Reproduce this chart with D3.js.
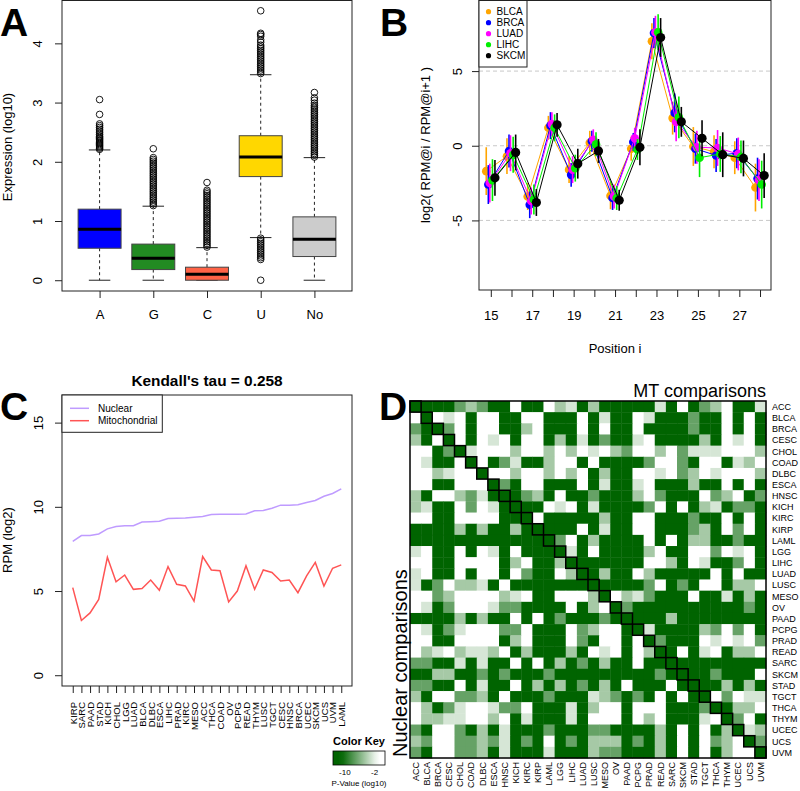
<!DOCTYPE html>
<html><head><meta charset="utf-8">
<script src="https://cdn.jsdelivr.net/npm/d3@7"></script>
<style>body{margin:0;background:#fff}svg{display:block}</style>
</head><body>
<svg id="fig" width="800" height="791"></svg>
<script>
// ---------------- DATA ----------------
// Panel A: boxplots
const boxCategories = ["A","G","C","U","No"];
const boxColors = ["#0000FF","#228B22","#FF6347","#FFD700","#CCCCCC"];
const boxQ1 = [0.54,0.18,0.00,1.75,0.40];
const boxMedian = [0.86,0.37,0.10,2.08,0.69];
const boxQ3 = [1.20,0.61,0.22,2.44,1.07];
const boxLowWhisker = [0,0,0,0.72,0];
const boxHighWhisker = [2.20,1.25,0.55,3.47,2.07];
const outliersA = [2.21,2.23,2.25,2.27,2.29,2.31,2.33,2.35,2.37,2.39,2.41,2.43,2.46,2.49,2.52,2.55,2.58,2.61,2.64,2.80,3.05];
const outliersG = [1.26,1.29,1.32,1.35,1.38,1.41,1.44,1.47,1.50,1.53,1.56,1.59,1.62,1.65,1.68,1.71,1.74,1.77,1.80,1.83,1.86,1.89,1.92,1.95,1.98,2.01,2.04,2.07,2.22];
const outliersC = [0.56,0.59,0.62,0.65,0.68,0.71,0.74,0.77,0.80,0.83,0.86,0.89,0.92,0.95,0.98,1.01,1.04,1.07,1.10,1.13,1.16,1.19,1.22,1.25,1.28,1.31,1.34,1.37,1.40,1.43,1.46,1.49,1.52,1.65];
const outliersU = [0.00,0.35,0.38,0.41,0.44,0.47,0.50,0.53,0.56,0.59,0.62,0.65,0.68,0.71,3.49,3.52,3.55,3.58,3.61,3.64,3.67,3.70,3.73,3.76,3.79,3.82,3.85,3.88,3.91,3.94,3.97,4.02,4.06,4.12,4.15,4.17,4.55];
const outliersNo = [2.08,2.11,2.14,2.17,2.20,2.23,2.26,2.29,2.32,2.35,2.38,2.41,2.44,2.47,2.50,2.53,2.56,2.59,2.62,2.65,2.68,2.71,2.74,2.77,2.80,2.83,2.86,2.89,2.92,2.95,2.99,3.04,3.08,3.17];
const boxTicks = [0,1,2,3,4];

// Panel B: positional ratios
const positions = [15,16,17,18,19,20,21,22,23,24,25,26,27,28];
const seriesNames = ["BLCA","BRCA","LUAD","LIHC","SKCM"];
const seriesColors = ["#FFA500","#0000FF","#FF00FF","#00EE00","#000000"];
const seriesOffsets = [-0.22,-0.12,-0.05,0.08,0.2];
const valBLCA = [-1.7,-0.7,-3.4,1.2,-1.6,0.2,-3.35,-0.2,7.0,1.85,-0.05,-0.4,-0.8,-2.8];
const valBRCA = [-2.6,-0.35,-3.95,1.35,-1.95,0.3,-3.5,0.25,7.55,2.2,-0.2,-0.65,-0.5,-2.2];
const valLUAD = [-2.5,-0.5,-3.7,1.45,-1.6,0.4,-3.4,0.5,7.6,1.6,-0.1,-0.15,-0.55,-2.3];
const valLIHC = [-2.3,-0.6,-3.6,1.2,-1.5,0.1,-3.5,-0.25,7.6,1.9,-0.8,-0.55,-0.75,-2.6];
const valSKCM = [-2.15,-0.45,-3.8,1.4,-1.2,-0.35,-3.65,-0.1,7.25,1.6,0.5,-0.6,-0.85,-2.0];
const errBLCA = [1.6,1.2,0.9,0.8,0.9,0.8,0.9,0.8,1.2,1.1,1.3,1.1,1.1,1.6];
const errBRCA = [1.3,1.1,0.9,0.9,0.8,0.7,0.8,0.6,1.0,1.3,1.0,1.1,1.0,1.4];
const errLUAD = [1.3,1.2,0.9,0.8,0.9,0.7,0.8,0.7,1.1,1.3,1.1,1.2,1.1,1.4];
const errLIHC = [1.4,1.2,1.0,0.9,0.9,0.8,0.8,0.7,1.2,1.4,1.3,1.2,1.1,1.6];
const errSKCM = [1.2,1.2,0.9,0.8,1.0,0.8,0.7,1.2,1.3,1.0,1.2,1.5,1.2,1.5];
const ratioTicks = [-5,0,5];

// Panel C: RPM lines
const cancersC = ["KIRP","SARC","PAAD","STAD","KICH","CHOL","LGG","LUAD","BLCA","DLBC","ESCA","LIHC","PRAD","KIRC","MESO","ACC","THCA","COAD","OV","PCPG","READ","THYM","LUSC","TGCT","CESC","HNSC","BRCA","UCEC","SKCM","UCS","UVM","LAML"];
const nuclearRPM = [7.95,8.29,8.3,8.39,8.69,8.83,8.88,8.88,9.1,9.12,9.14,9.3,9.32,9.34,9.38,9.42,9.54,9.56,9.56,9.56,9.58,9.76,9.78,9.92,10.1,10.1,10.12,10.26,10.38,10.63,10.79,11.07];
const mitoRPM = [5.2,3.25,3.7,4.5,7.0,5.55,5.95,5.1,5.15,5.65,5.05,6.45,5.4,5.3,4.4,7.05,6.25,6.2,4.35,5.0,6.5,5.1,6.25,6.1,5.6,5.65,4.9,5.9,6.7,5.3,6.35,6.55];
const rpmTicks = [0,5,10,15];

// Panel D: heatmap (level codes per cell, upper = MT, lower = nuclear)
const heatCancers = ["ACC","BLCA","BRCA","CESC","CHOL","COAD","DLBC","ESCA","HNSC","KICH","KIRC","KIRP","LAML","LGG","LIHC","LUAD","LUSC","MESO","OV","PAAD","PCPG","PRAD","READ","SARC","SKCM","STAD","TGCT","THCA","THYM","UCEC","UCS","UVM"];
const levelLog10P = [-1,-2.6,-4.5,-7,-11];
const heatRows = [
"44443234404402142444441404320441",
"04010400440044404144014443440404",
"34430400442044404044044443440404",
"24040401040042414344104444240104",
"00434100020020201023002031110002",
"01440404314420040444430034004120",
"00210040020020204244001032010002",
"00440004340044404144104442440404",
"24002314443240443444203444032043",
"21440301444401041444430404214334",
"00440000444044444244004443440404",
"44442424424444404144004443240304",
"44444444444443042444404042244344",
"10440401404444140444420440030104",
"00440000420442444444400240144304",
"10440400403440244244024444404044",
"14302214044444444444430434004220",
"00320000210440002402134440441424",
"01430001334444042043444444444434",
"44442424404043444344444244444444",
"01431000330444032004414444230304",
"00440000420444034004043444010103",
"02102112042444240104024404104220",
"33441414404042434244044444444444",
"44224434344434444444443444434440",
"33440414404242434240444044442424",
"24003324044434441234340404403011",
"02431001330444142004000444344220",
"02211002041444140004020444104304",
"34003424144434443344442404042412",
"23003323143404342224342404032043",
"34003324144414442334442404042004"
];
const keyTicks = [-10,-2];

// ---------------- DRAW ----------------
const FF = '"Liberation Sans", Arial, Helvetica, sans-serif';
const svg = d3.select("#fig").style("font-family", FF);
const INK = "#222";
const plain = d => String(d);

function styleAxis(g, size){
  g.attr("font-family", FF).attr("font-size", size);
  g.select(".domain").remove();
  g.selectAll(".tick line").attr("stroke", INK);
  g.selectAll(".tick text").attr("fill", "#000");
}
function rotYLabels(g, d){
  g.selectAll(".tick text").attr("transform","rotate(-90)").attr("x",0).attr("y",-d).attr("dy",0).attr("text-anchor","middle");
}
function rotText(x, y, txt, size, anchor, weight){
  svg.append("text").attr("transform",`translate(${x},${y}) rotate(-90)`)
    .attr("text-anchor",anchor||"middle").attr("font-size",size).attr("font-weight",weight||"normal").text(txt);
}
function letter(t,x,y){ svg.append("text").attr("x",x).attr("y",y).attr("font-size",39).attr("font-weight","bold").text(t); }

// ===== Panel A =====
const ax = d3.scaleLinear().domain([0.3,5.7]).range([62,352]);
const ay = d3.scaleLinear().domain([-0.182,4.732]).range([291,0]);
const outliers = [outliersA,outliersG,outliersC,outliersU,outliersNo];
const gA = svg.append("g");
boxCategories.forEach((c,i)=>{
  const xc = ax(i+1), hw = ax(i+1.4)-xc, sw = ax(i+1.2)-xc;
  gA.append("line").attr("x1",xc).attr("x2",xc).attr("y1",ay(boxQ3[i])).attr("y2",ay(boxHighWhisker[i])).attr("stroke",INK).attr("stroke-dasharray","3,3");
  gA.append("line").attr("x1",xc).attr("x2",xc).attr("y1",ay(boxQ1[i])).attr("y2",ay(boxLowWhisker[i])).attr("stroke",INK).attr("stroke-dasharray","3,3");
  [boxHighWhisker[i], boxLowWhisker[i]].forEach(v=>gA.append("line").attr("x1",xc-sw).attr("x2",xc+sw).attr("y1",ay(v)).attr("y2",ay(v)).attr("stroke",INK));
  gA.append("rect").attr("x",xc-hw).attr("width",2*hw).attr("y",ay(boxQ3[i])).attr("height",ay(boxQ1[i])-ay(boxQ3[i])).attr("fill",boxColors[i]).attr("stroke","#444");
  gA.append("line").attr("x1",xc-hw).attr("x2",xc+hw).attr("y1",ay(boxMedian[i])).attr("y2",ay(boxMedian[i])).attr("stroke","#000").attr("stroke-width",3);
  gA.selectAll(null).data(outliers[i]).join("circle").attr("cx",xc).attr("cy",d=>ay(d)).attr("r",3.3).attr("fill","none").attr("stroke","#000").attr("stroke-width",0.9);
});
gA.append("rect").attr("x",62).attr("y",0.5).attr("width",290).attr("height",290.5).attr("fill","none").attr("stroke",INK);
const aYAxis = gA.append("g").attr("transform","translate(62,0)").call(d3.axisLeft(ay).tickValues(boxTicks).tickFormat(plain).tickSize(7));
styleAxis(aYAxis,13); rotYLabels(aYAxis,20);
const aXAxis = gA.append("g").attr("transform","translate(0,291)").call(d3.axisBottom(ax).tickValues([1,2,3,4,5]).tickFormat((d,i)=>boxCategories[i]).tickSize(7).tickPadding(12));
styleAxis(aXAxis,13);
rotText(12,147,"Expression (log10)",13);
letter("A",0,35.5);

// ===== Panel B =====
const bx = d3.scaleLinear().domain([14.43,28.53]).range([479,771]);
const by = d3.scaleLinear().domain([-9.66,9.76]).range([290,0]);
const gB = svg.append("g");
ratioTicks.forEach(t=>gB.append("line").attr("x1",479).attr("x2",771).attr("y1",by(t)).attr("y2",by(t)).attr("stroke","#c8c8c8").attr("stroke-dasharray","4,3"));
const vals = [valBLCA,valBRCA,valLUAD,valLIHC,valSKCM];
const errs = [errBLCA,errBRCA,errLUAD,errLIHC,errSKCM];
seriesNames.forEach((s,k)=>{
  const pts = positions.map((p,j)=>({x:p+seriesOffsets[k], v:vals[k][j], e:errs[k][j]}));
  gB.append("path").datum(pts).attr("d",d3.line().x(d=>bx(d.x)).y(d=>by(d.v))).attr("fill","none").attr("stroke",seriesColors[k]).attr("stroke-width",1);
  gB.selectAll(null).data(pts).join("line").attr("x1",d=>bx(d.x)).attr("x2",d=>bx(d.x)).attr("y1",d=>by(d.v-d.e)).attr("y2",d=>by(d.v+d.e)).attr("stroke",seriesColors[k]).attr("stroke-width",1.6);
  gB.selectAll(null).data(pts).join("circle").attr("cx",d=>bx(d.x)).attr("cy",d=>by(d.v)).attr("r",k===4?4.6:4.3).attr("fill",seriesColors[k]);
});
gB.append("rect").attr("x",479).attr("y",0.5).attr("width",292).attr("height",289.5).attr("fill","none").attr("stroke",INK);
const bYAxis = gB.append("g").attr("transform","translate(479,0)").call(d3.axisLeft(by).tickValues(ratioTicks).tickFormat(plain).tickSize(7));
styleAxis(bYAxis,13); rotYLabels(bYAxis,17);
const bXAxis = gB.append("g").attr("transform","translate(0,290)").call(d3.axisBottom(bx).tickValues(positions).tickFormat(d=>d%2?plain(d):"").tickSize(7).tickPadding(14));
styleAxis(bXAxis,13);
// legend
gB.append("rect").attr("x",479).attr("y",0.5).attr("width",48).attr("height",66.5).attr("fill","#fff").attr("stroke",INK);
seriesNames.forEach((s,k)=>{
  const yy = 11.7+11*k;
  gB.append("circle").attr("cx",488.5).attr("cy",yy).attr("r",2.6).attr("fill",seriesColors[k]);
  gB.append("text").attr("x",496.5).attr("y",yy+3.6).attr("font-size",10).text(s);
});
rotText(430,145,"log2( RPM@i / RPM@i+1 )",13);
svg.append("text").attr("x",615).attr("y",353).attr("text-anchor","middle").attr("font-size",13).text("Position i");
letter("B",380,35.5);

// ===== Panel C =====
const cx = d3.scaleLinear().domain([-0.24,33.24]).range([62,352]);
const cy = d3.scaleLinear().domain([-0.64,16.64]).range([686,395]);
const gC = svg.append("g");
const idx = cancersC.map((c,i)=>i+1);
const nucColor = "#BF9BFF", mitoColor = "#FF5454";
gC.append("path").datum(nuclearRPM).attr("d",d3.line().x((d,i)=>cx(i+1)).y(d=>cy(d))).attr("fill","none").attr("stroke",nucColor).attr("stroke-width",1.5);
gC.append("path").datum(mitoRPM).attr("d",d3.line().x((d,i)=>cx(i+1)).y(d=>cy(d))).attr("fill","none").attr("stroke",mitoColor).attr("stroke-width",1.5);
gC.append("rect").attr("x",62).attr("y",395).attr("width",290).attr("height",291).attr("fill","none").attr("stroke",INK);
const cYAxis = gC.append("g").attr("transform","translate(62,0)").call(d3.axisLeft(cy).tickValues(rpmTicks).tickFormat(plain).tickSize(7));
styleAxis(cYAxis,13); rotYLabels(cYAxis,19);
const cXAxis = gC.append("g").attr("transform","translate(0,686)").call(d3.axisBottom(cx).tickValues(idx).tickFormat((d,i)=>cancersC[i]).tickSize(7));
styleAxis(cXAxis,9.5);
cXAxis.selectAll(".tick text").attr("transform","translate(3.4,16) rotate(-90)").attr("x",0).attr("y",0).attr("dy",0).attr("text-anchor","end");
// legend
gC.append("rect").attr("x",62).attr("y",395).attr("width",100.3).attr("height",37.3).attr("fill","#fff").attr("stroke",INK);
[["Nuclear",nucColor,408.3],["Mitochondrial",mitoColor,420.7]].forEach(([t,c,yy])=>{
  gC.append("line").attr("x1",70).attr("x2",89).attr("y1",yy).attr("y2",yy).attr("stroke",c).attr("stroke-width",1.5);
  gC.append("text").attr("x",98).attr("y",yy+3.6).attr("font-size",10).text(t);
});
svg.append("text").attr("x",207).attr("y",386).attr("text-anchor","middle").attr("font-size",15.4).attr("font-weight","bold").text("Kendall's tau = 0.258");
rotText(12,540,"RPM (log2)",13);
letter("C",0,420);

// ===== Panel D =====
const hx = d3.scaleBand().domain(heatCancers).range([410,766]);
const hy = d3.scaleBand().domain(heatCancers).range([401,758]);
const hColor = d3.scaleLinear().domain([-11,-1]).range(["#006400","#ffffff"]).clamp(true);
const cells = [];
heatRows.forEach((row,r)=>row.split("").forEach((ch,c)=>cells.push({r:heatCancers[r], c:heatCancers[c], p:levelLog10P[+ch]})));
const gD = svg.append("g");
gD.selectAll("rect.cell").data(cells).join("rect").attr("class","cell")
  .attr("x",d=>hx(d.c)).attr("y",d=>hy(d.r)).attr("width",hx.bandwidth()+0.4).attr("height",hy.bandwidth()+0.4)
  .attr("fill",d=>hColor(d.p));
gD.selectAll("rect.diag").data(heatCancers).join("rect").attr("class","diag")
  .attr("x",d=>hx(d)).attr("y",d=>hy(d)).attr("width",hx.bandwidth()).attr("height",hy.bandwidth())
  .attr("fill","none").attr("stroke","#000").attr("stroke-width",1.5);
gD.append("rect").attr("x",410).attr("y",401).attr("width",356).attr("height",357).attr("fill","none").attr("stroke","#000").attr("stroke-width",1.5);
gD.selectAll("text.rowlab").data(heatCancers).join("text").attr("class","rowlab")
  .attr("x",772).attr("y",d=>hy(d)+hy.bandwidth()/2+3.3).attr("font-size",9).text(d=>d);
gD.selectAll("text.collab").data(heatCancers).join("text").attr("class","collab")
  .attr("transform",d=>`translate(${hx(d)+hx.bandwidth()/2+3.2},762) rotate(-90)`).attr("text-anchor","end").attr("font-size",9).text(d=>d);
svg.append("text").attr("x",766).attr("y",397).attr("text-anchor","end").attr("font-size",18).text("MT comparisons");
rotText(407,757,"Nuclear comparisons",20,"start");
letter("D",379,420);

// Color key
const kx = d3.scaleLinear().domain([-13.2,0.8]).range([333,385]);
const defs = svg.append("defs");
const grad = defs.append("linearGradient").attr("id","keygrad");
d3.range(0,1.0001,0.1).forEach(t=>{
  const v = kx.domain()[0]+t*(kx.domain()[1]-kx.domain()[0]);
  grad.append("stop").attr("offset",t).attr("stop-color",hColor(v));
});
svg.append("text").attr("x",359).attr("y",745).attr("text-anchor","middle").attr("font-size",11).attr("font-weight","bold").text("Color Key");
svg.append("rect").attr("x",333).attr("y",751).attr("width",52).attr("height",14).attr("fill","url(#keygrad)").attr("stroke","#000").attr("stroke-width",0.8);
keyTicks.forEach(t=>svg.append("text").attr("x",kx(t)).attr("y",775).attr("text-anchor","middle").attr("font-size",8).text(plain(t)));
svg.append("text").attr("x",359).attr("y",786).attr("text-anchor","middle").attr("font-size",8).text("P-Value (log10)");
</script>
</body></html>
